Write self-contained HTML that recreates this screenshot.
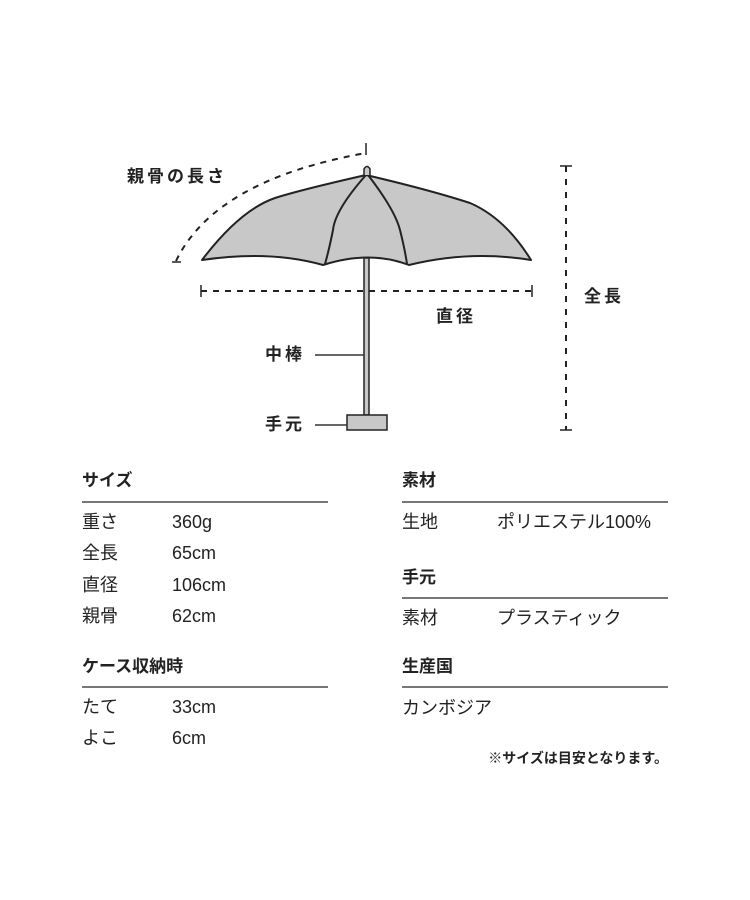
<!DOCTYPE html>
<html><head><meta charset="utf-8"><style>
body{margin:0;background:#fff;}
.w{position:relative;width:750px;height:900px;font-family:"Liberation Sans","Noto Sans CJK JP",sans-serif;color:#222;}
.t{position:absolute;white-space:nowrap;line-height:1;}
.b{font-weight:bold;font-size:17px;}
.d{font-weight:bold;font-size:17px;letter-spacing:3px;}
.r{font-size:18px;}
.l{position:absolute;height:2px;background:#777;}
</style></head><body><div class="w">
<svg width="750" height="900" style="position:absolute;left:0;top:0">
<path d="M202,260 Q240,210 275,198 Q300,190 366,175 Q430,190 470,203 Q505,218 531,260 Q470,250 409,265 Q370,250 323,265 Q270,250 202,260 Z" fill="#c8c8c8" stroke="#222" stroke-width="2" stroke-linejoin="round"/>
<path d="M366,175 Q335,210 333,230 Q329,250 325,264" fill="none" stroke="#222" stroke-width="2"/>
<path d="M368,175 Q395,210 400,230 Q405,250 407,264" fill="none" stroke="#222" stroke-width="2"/>
<path d="M364,175 L364,169 Q367,164 370,169 L370,175" fill="#c8c8c8" stroke="#222" stroke-width="1.5"/>
<rect x="364" y="258" width="5" height="157" fill="#c8c8c8" stroke="#222" stroke-width="1.5"/>
<rect x="347" y="415" width="40" height="15" fill="#c8c8c8" stroke="#222" stroke-width="1.5"/>
<line x1="315" y1="355" x2="364" y2="355" stroke="#333" stroke-width="1.5"/>
<line x1="315" y1="425" x2="347" y2="425" stroke="#333" stroke-width="1.5"/>
<path d="M176,261 Q215,180 366,153" fill="none" stroke="#222" stroke-width="2" stroke-dasharray="6,6"/>
<line x1="172" y1="262" x2="181" y2="262" stroke="#222" stroke-width="1.5"/>
<line x1="366" y1="143" x2="366" y2="155" stroke="#222" stroke-width="1.5"/>
<line x1="201" y1="291" x2="532" y2="291" stroke="#222" stroke-width="2" stroke-dasharray="6,6"/>
<line x1="201" y1="285" x2="201" y2="297" stroke="#222" stroke-width="1.5"/>
<line x1="532" y1="285" x2="532" y2="297" stroke="#222" stroke-width="1.5"/>
<line x1="566" y1="166" x2="566" y2="430" stroke="#222" stroke-width="2" stroke-dasharray="6,7"/>
<line x1="560" y1="166" x2="572" y2="166" stroke="#222" stroke-width="1.5"/>
<line x1="560" y1="430" x2="572" y2="430" stroke="#222" stroke-width="1.5"/>
</svg>
<div class="t d" style="left:127px;top:168px">親骨の長さ</div>
<div class="t d" style="left:584px;top:288px">全長</div>
<div class="t d" style="left:436px;top:308px">直径</div>
<div class="t d" style="left:265px;top:346px">中棒</div>
<div class="t d" style="left:265px;top:416px">手元</div>

<div class="t b" style="left:82px;top:472px">サイズ</div>
<div class="l" style="left:82px;top:501px;width:246px"></div>
<div class="t r" style="left:82px;top:513px">重さ</div><div class="t r" style="left:172px;top:513px">360g</div>
<div class="t r" style="left:82px;top:544px">全長</div><div class="t r" style="left:172px;top:544px">65cm</div>
<div class="t r" style="left:82px;top:576px">直径</div><div class="t r" style="left:172px;top:576px">106cm</div>
<div class="t r" style="left:82px;top:607px">親骨</div><div class="t r" style="left:172px;top:607px">62cm</div>
<div class="t b" style="left:82px;top:658px">ケース収納時</div>
<div class="l" style="left:82px;top:686px;width:246px"></div>
<div class="t r" style="left:82px;top:698px">たて</div><div class="t r" style="left:172px;top:698px">33cm</div>
<div class="t r" style="left:82px;top:729px">よこ</div><div class="t r" style="left:172px;top:729px">6cm</div>

<div class="t b" style="left:402px;top:472px">素材</div>
<div class="l" style="left:402px;top:501px;width:266px"></div>
<div class="t r" style="left:402px;top:513px">生地</div><div class="t r" style="left:497px;top:513px">ポリエステル100%</div>
<div class="t b" style="left:402px;top:569px">手元</div>
<div class="l" style="left:402px;top:597px;width:266px"></div>
<div class="t r" style="left:402px;top:609px">素材</div><div class="t r" style="left:497px;top:609px">プラスティック</div>
<div class="t b" style="left:402px;top:658px">生産国</div>
<div class="l" style="left:402px;top:686px;width:266px"></div>
<div class="t r" style="left:402px;top:699px">カンボジア</div>
<div class="t" style="right:82px;top:751px;font-size:14px;font-weight:bold">※サイズは目安となります。</div>
</div></body></html>
